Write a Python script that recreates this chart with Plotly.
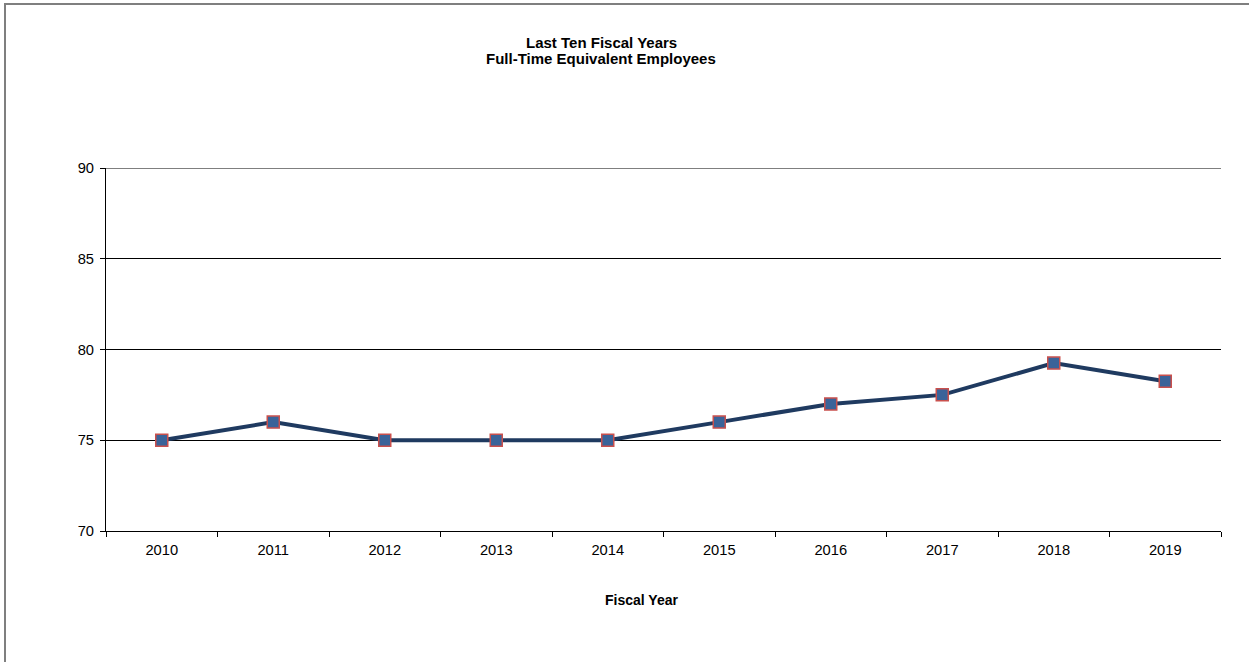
import plotly.graph_objects as go

years = ["2010", "2011", "2012", "2013", "2014", "2015", "2016", "2017", "2018", "2019"]
fte = [75, 76, 75, 75, 75, 76, 77, 77.5, 79.25, 78.25]
y_ticks = [70, 75, 80, 85, 90]
title_lines = ["Last Ten Fiscal Years", "Full-Time Equivalent Employees"]
x_title = "Fiscal Year"

W, H = 1249, 662
L, R, T, B = 106, 28, 168, 131
pw, ph = W - L - R, H - T - B

def px_x(x):
    return (x - L) / pw

def px_y(y):
    return 1 - (y - T) / ph

FONT = "Liberation Sans, Arial, sans-serif"

fig = go.Figure()
fig.add_trace(go.Scatter(
    x=years, y=fte, mode="lines+markers",
    line=dict(color="#1F3A60", width=4),
    marker=dict(symbol="square", size=12, color="#3A6399",
                line=dict(color="#C9504D", width=1.5)),
    showlegend=False, hoverinfo="x+y",
))

fig.update_layout(
    width=W, height=H,
    margin=dict(l=L, r=R, t=T, b=B),
    paper_bgcolor="white", plot_bgcolor="white",
    font=dict(family=FONT, size=14.7, color="black"),
    xaxis=dict(type="category", range=[-0.5, 9.5], showgrid=False,
               showline=True, linecolor="black", linewidth=1,
               ticks="outside", ticklen=5, tickcolor="black",
               tickson="boundaries", tickfont=dict(size=14.7, family=FONT),
               ticklabelstandoff=5,
               zeroline=False, fixedrange=True),
    yaxis=dict(range=[70, 90], tickvals=y_ticks, showgrid=True,
               gridcolor="black", gridwidth=1,
               showline=True, linecolor="black", linewidth=1,
               ticks="outside", ticklen=5, tickcolor="black",
               tickfont=dict(size=14.7, family=FONT), ticklabelstandoff=3,
               zeroline=False, fixedrange=True),
)

annotations = [
    dict(text=f"<b>{title_lines[0]}</b>", x=px_x(601), y=px_y(42), xref="paper", yref="paper",
         showarrow=False, font=dict(size=15, family=FONT), xanchor="center", yanchor="middle"),
    dict(text=f"<b>{title_lines[1]}</b>", x=px_x(601), y=px_y(59), xref="paper", yref="paper",
         showarrow=False, font=dict(size=15, family=FONT), xanchor="center", yanchor="middle"),
    dict(text=f"<b>{x_title}</b>", x=px_x(641), y=px_y(600), xref="paper", yref="paper",
         showarrow=False, font=dict(size=14, family=FONT), xanchor="center", yanchor="middle"),
]
fig.update_layout(annotations=annotations)

# top gridline at the upper end of the range
fig.add_shape(type="line", xref="paper", yref="y", x0=0, x1=1,
              y0=y_ticks[-1], y1=y_ticks[-1], line=dict(color="black", width=1))

border = dict(color="#7F7F7F", width=2)
fig.add_shape(type="line", xref="paper", yref="paper",
              x0=px_x(5), x1=px_x(5), y0=px_y(H + 5), y1=px_y(4), line=border)
fig.add_shape(type="line", xref="paper", yref="paper",
              x0=px_x(4), x1=px_x(W + 5), y0=px_y(4), y1=px_y(4), line=border)

fig.write_html("out.html")
